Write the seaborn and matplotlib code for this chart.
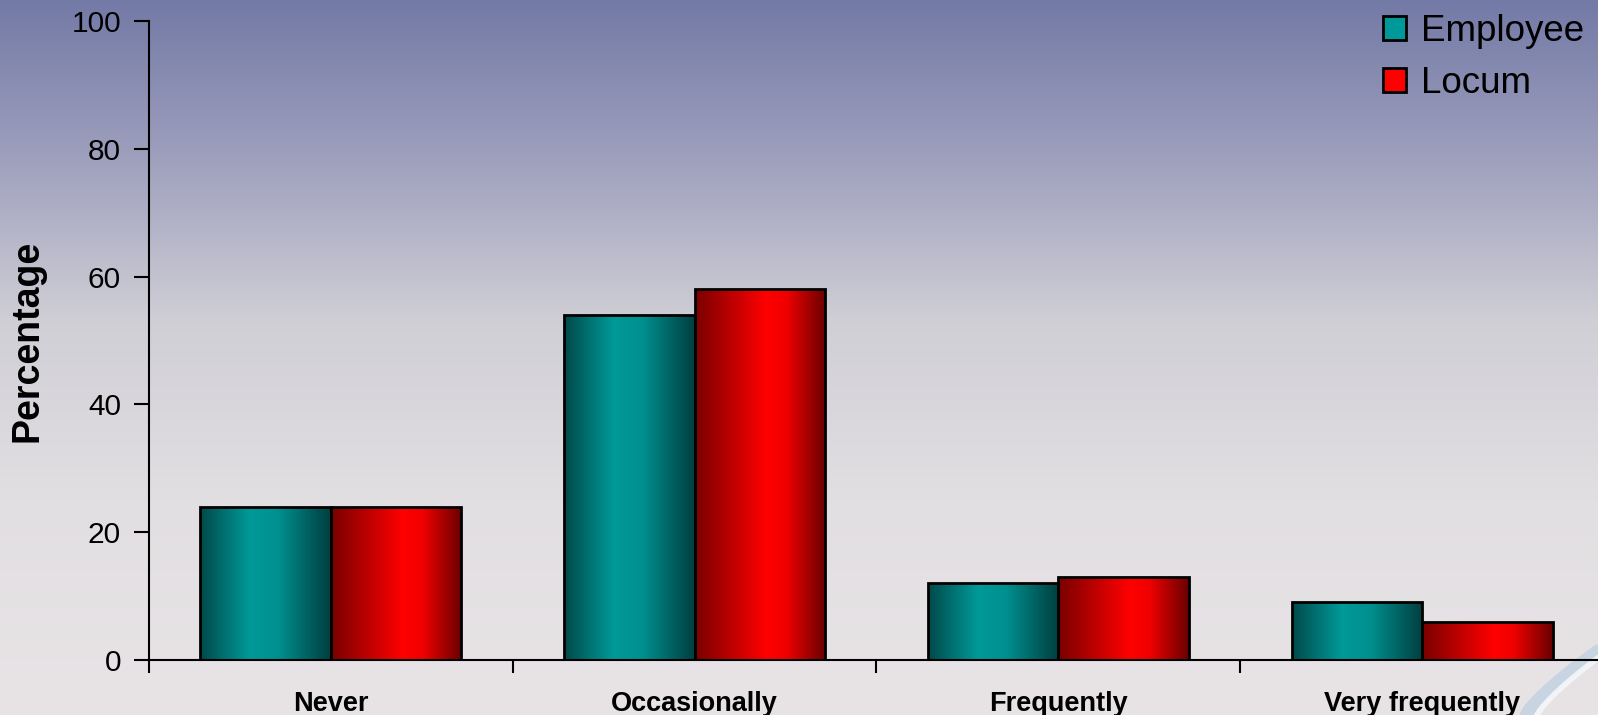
import matplotlib
matplotlib.use("Agg")
import matplotlib.pyplot as plt
import numpy as np
import pandas as pd
import seaborn as sns
from matplotlib.colors import LinearSegmentedColormap
from matplotlib.patches import Patch

categories = ["Never", "Occasionally", "Frequently", "Very frequently"]
employee = [24, 54, 12, 9]
locum = [24, 58, 13, 6]
series = ["Employee", "Locum"]
y_ticks = [0, 20, 40, 60, 80, 100]

df = pd.DataFrame(
    {
        "category": categories * 2,
        "group": ["Employee"] * len(categories) + ["Locum"] * len(categories),
        "value": employee + locum,
    }
)

sns.set_theme(style="white")
plt.rcParams["font.family"] = ["Liberation Sans", "DejaVu Sans"]
plt.rcParams.update(
    {
        "text.color": "black",
        "axes.labelcolor": "black",
        "xtick.color": "black",
        "ytick.color": "black",
    }
)

W, H = 1598, 715
fig = plt.figure(figsize=(W / 100, H / 100), dpi=100)

# background gradient (purple-blue top -> light grey bottom)
bg = fig.add_axes([0, 0, 1, 1], zorder=0)
bg.axis("off")
bg_cmap = LinearSegmentedColormap.from_list(
    "bg",
    [
        (0.0, "#737aa6"),
        (0.2, "#9a9cbb"),
        (0.45, "#d0cfd6"),
        (0.7, "#e2dfe2"),
        (1.0, "#e8e4e6"),
    ],
)
grad = np.linspace(0, 1, 256).reshape(-1, 1)
bg.imshow(grad, aspect="auto", cmap=bg_cmap, extent=[0, 1, 0, 1], origin="upper")
bg.set_xlim(0, 1)
bg.set_ylim(0, 1)
# little swoosh at the bottom-right corner
t = np.linspace(0, 1, 50)
bg.plot(0.955 + 0.045 * t, 0.0 + 0.09 * t ** 0.8, color="#b4cbe0", lw=9, alpha=0.6,
        solid_capstyle="round")
bg.plot(0.962 + 0.038 * t, 0.0 + 0.08 * t ** 0.8, color="#f4f7fa", lw=4, alpha=0.9)

ax = fig.add_axes([148.8 / W, 55 / H, 0.9107, 639 / H], zorder=1)
ax.patch.set_alpha(0)

sns.barplot(
    data=df,
    x="category",
    y="value",
    hue="group",
    order=categories,
    hue_order=series,
    palette=["#009999", "#ff0000"],
    width=0.717,
    edgecolor="black",
    linewidth=2,
    legend=False,
    ax=ax,
)

teal_cmap = LinearSegmentedColormap.from_list(
    "teal", [(0, "#004a4a"), (0.38, "#009999"), (0.6, "#008f8f"), (1, "#003f3f")]
)
red_cmap = LinearSegmentedColormap.from_list(
    "red", [(0, "#7a0000"), (0.55, "#ff0000"), (0.7, "#f00000"), (1, "#6a0000")]
)
row = np.linspace(0, 1, 200).reshape(1, -1)
for i, p in enumerate(ax.patches):
    cmap = teal_cmap if i < len(categories) else red_cmap
    x0, y0 = p.get_x(), p.get_y()
    w, h = p.get_width(), p.get_height()
    im = ax.imshow(row, aspect="auto", cmap=cmap, extent=[x0, x0 + w, y0, y0 + h],
                   zorder=2)
    im.set_clip_path(p)
    p.set_facecolor("none")
    p.set_zorder(3)

ax.set_xlim(-0.5, 3.5)
ax.set_ylim(0, 100)
ax.set_yticks(y_ticks)
ax.set_yticklabels([str(v) for v in y_ticks], fontsize=21.5)
ax.set_xticks(range(len(categories)))
ax.set_xticklabels(categories, fontsize=19.5, fontweight="bold")
ax.set_xticks(np.arange(-0.5, 3.6, 1.0), minor=True)
ax.tick_params(axis="x", which="major", length=0, pad=22)
ax.tick_params(axis="x", which="minor", length=9, width=1.5, direction="out",
               bottom=True)
ax.tick_params(axis="y", length=11, width=1.5, direction="out", pad=9, left=True)
ax.set_xlabel("")
ax.set_ylabel("Percentage", fontsize=27, fontweight="bold", labelpad=19)
for s in ["top", "right"]:
    ax.spines[s].set_visible(False)
for s in ["left", "bottom"]:
    ax.spines[s].set_color("black")
    ax.spines[s].set_linewidth(1.5)

handles = [
    Patch(facecolor="#009999", edgecolor="black", linewidth=2),
    Patch(facecolor="#ff0000", edgecolor="black", linewidth=2),
]
fig.legend(
    handles,
    series,
    loc="upper left",
    bbox_to_anchor=(1383 / W, 1 - 14 / H),
    frameon=False,
    fontsize=26.5,
    handlelength=0.62,
    handleheight=0.62,
    handletextpad=0.4,
    labelspacing=0.45,
    borderpad=0,
    borderaxespad=0,
)

fig.savefig("out.png", dpi=100)
